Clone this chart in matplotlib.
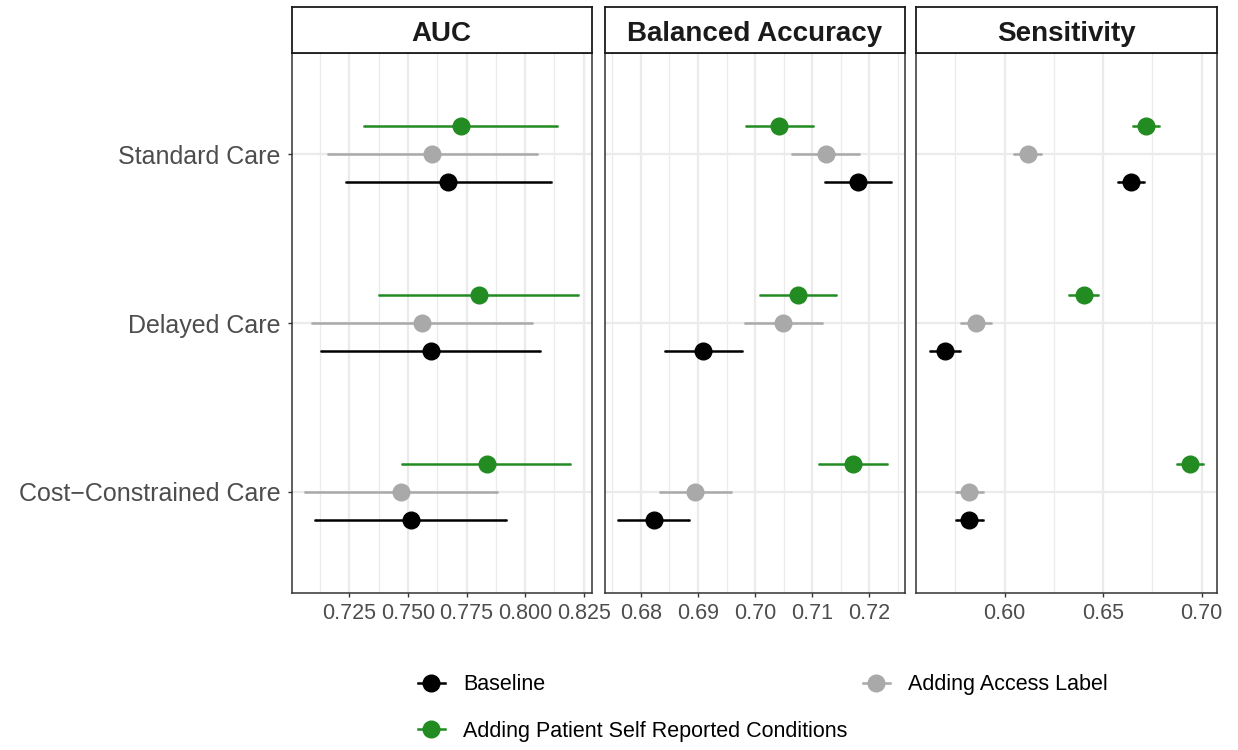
import matplotlib.pyplot as plt
import numpy as np
from matplotlib.lines import Line2D
from matplotlib.ticker import MultipleLocator, FormatStrFormatter

plt.rcParams['font.family'] = ['Liberation Sans', 'DejaVu Sans']

categories = ["Standard Care", "Delayed Care", "Cost\u2212Constrained Care"]
methods = ["Baseline", "Adding Access Label", "Adding Patient Self Reported Conditions"]
colors = ["black", "darkgray", "forestgreen"]
metrics = ["AUC", "Balanced Accuracy", "Sensitivity"]

# AUC
auc_base = [0.7672, 0.7596, 0.7511]
auc_base_lo = [0.7236, 0.7128, 0.7103]
auc_base_hi = [0.8110, 0.8062, 0.7920]
auc_access = [0.7603, 0.7561, 0.7470]
auc_access_lo = [0.7157, 0.7090, 0.7061]
auc_access_hi = [0.8049, 0.8030, 0.7880]
auc_patient = [0.7725, 0.7802, 0.7836]
auc_patient_lo = [0.7312, 0.7377, 0.7473]
auc_patient_hi = [0.8138, 0.8227, 0.8192]

# Balanced accuracy
ba_base = [0.7180, 0.6909, 0.6822]
ba_base_lo = [0.7122, 0.6842, 0.6760]
ba_base_hi = [0.7239, 0.6977, 0.6884]
ba_access = [0.7124, 0.7049, 0.6895]
ba_access_lo = [0.7065, 0.6983, 0.6834]
ba_access_hi = [0.7182, 0.7117, 0.6957]
ba_patient = [0.7042, 0.7075, 0.7172]
ba_patient_lo = [0.6984, 0.7009, 0.7112]
ba_patient_hi = [0.7102, 0.7142, 0.7231]

# Sensitivity
sens_base = [0.6643, 0.5698, 0.5817]
sens_base_lo = [0.6578, 0.5622, 0.5752]
sens_base_hi = [0.6708, 0.5775, 0.5888]
sens_access = [0.6118, 0.5856, 0.5817]
sens_access_lo = [0.6050, 0.5778, 0.5752]
sens_access_hi = [0.6185, 0.5931, 0.5888]
sens_patient = [0.6718, 0.6401, 0.6941]
sens_patient_lo = [0.6654, 0.6329, 0.6877]
sens_patient_hi = [0.6782, 0.6475, 0.7009]

data = {
    "AUC": [(auc_base, auc_base_lo, auc_base_hi),
            (auc_access, auc_access_lo, auc_access_hi),
            (auc_patient, auc_patient_lo, auc_patient_hi)],
    "Balanced Accuracy": [(ba_base, ba_base_lo, ba_base_hi),
                          (ba_access, ba_access_lo, ba_access_hi),
                          (ba_patient, ba_patient_lo, ba_patient_hi)],
    "Sensitivity": [(sens_base, sens_base_lo, sens_base_hi),
                    (sens_access, sens_access_lo, sens_access_hi),
                    (sens_patient, sens_patient_lo, sens_patient_hi)],
}
tick_steps = {"AUC": (0.025, "%.3f"), "Balanced Accuracy": (0.01, "%.2f"), "Sensitivity": (0.05, "%.2f")}

W, H = 1238, 750
fig = plt.figure(figsize=(W / 100, H / 100), dpi=100)

panel_left = [291.5, 604.5, 916.5]
panel_w = 300.5
p_top, p_bot, s_top = 53, 593, 7
border = "#333333"
grid_c = "#EBEBEB"

ypos = np.array([3, 2, 1])
offsets = [-1 / 6, 0, 1 / 6]

for i, m in enumerate(metrics):
    ax = fig.add_axes([panel_left[i] / W, 1 - p_bot / H, panel_w / W, (p_bot - p_top) / H])
    allv = []
    for j, (mean, lo, hi) in enumerate(data[m]):
        mean, lo, hi = np.array(mean), np.array(lo), np.array(hi)
        allv += list(lo) + list(hi)
        ax.errorbar(mean, ypos + offsets[j], xerr=[mean - lo, hi - mean], fmt='o',
                    color=colors[j], ms=12, elinewidth=1.8, capsize=1, capthick=1.8, zorder=3)
    lo_all, hi_all = min(allv), max(allv)
    pad = 0.05 * (hi_all - lo_all)
    ax.set_xlim(lo_all - pad, hi_all + pad)
    ax.set_ylim(0.4, 3.6)
    step, fmt = tick_steps[m]
    ax.xaxis.set_major_locator(MultipleLocator(step))
    ax.xaxis.set_minor_locator(MultipleLocator(step / 2))
    ax.xaxis.set_major_formatter(FormatStrFormatter(fmt))
    ax.set_yticks(ypos)
    if i == 0:
        ax.set_yticklabels(categories, fontsize=18, color="#4D4D4D")
    else:
        ax.set_yticklabels([])
        ax.tick_params(axis='y', length=0)
    ax.grid(which='major', color=grid_c, lw=1.6, zorder=0)
    ax.grid(which='minor', axis='x', color=grid_c, lw=0.9, zorder=0)
    ax.set_axisbelow(True)
    ax.tick_params(axis='x', which='major', labelsize=15.5, labelcolor="#4D4D4D",
                   color=border, length=3, width=1, pad=4)
    ax.tick_params(axis='x', which='minor', length=0)
    if i == 0:
        ax.tick_params(axis='y', labelsize=18, color=border, length=3, width=1, pad=5)
    for s in ax.spines.values():
        s.set_color(border)
        s.set_linewidth(1.1)

    sax = fig.add_axes([panel_left[i] / W, 1 - p_top / H, panel_w / W, (p_top - s_top) / H])
    sax.set_xticks([])
    sax.set_yticks([])
    for s in sax.spines.values():
        s.set_color("#1A1A1A")
        s.set_linewidth(1.3)
    sax.text(0.5, 0.48, m, ha='center', va='center_baseline', fontsize=20, fontweight='bold',
             color="#1A1A1A", transform=sax.transAxes)

handles = [Line2D([], [], color=c, marker='o', ms=12, lw=1.8) for c in colors]
order = [0, 2, 1]
fig.legend([handles[k] for k in order], [methods[k] for k in order], ncol=2,
           loc='center left', bbox_to_anchor=(418 / W, 1 - 708 / H), frameon=False,
           fontsize=15.5, handlelength=1.25, handletextpad=0.85, columnspacing=0.7,
           labelspacing=1.2, borderpad=0, borderaxespad=0)

plt.savefig("out.png", dpi=100)
